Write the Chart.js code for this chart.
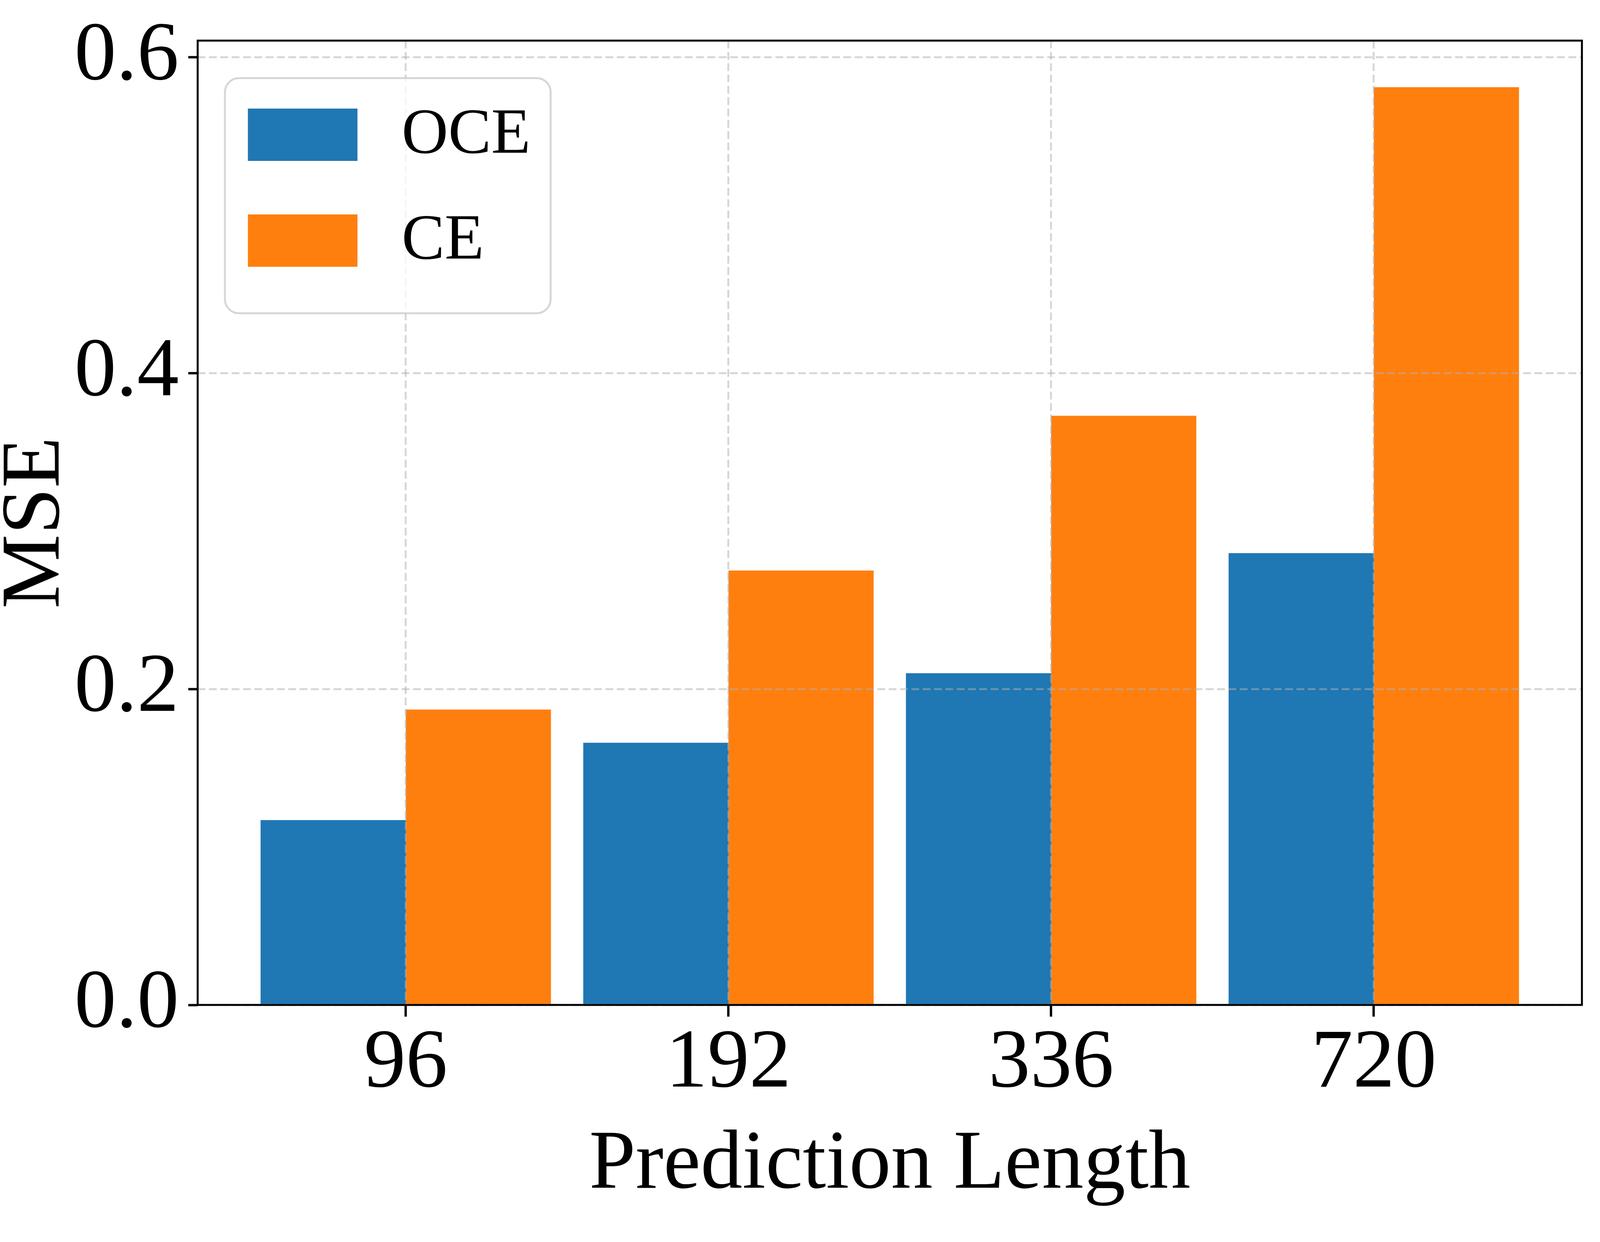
<!DOCTYPE html>
<html>
<head>
<meta charset="utf-8">
<title>MSE vs Prediction Length</title>
<script src="https://cdn.jsdelivr.net/npm/chart.js@4.4.0/dist/chart.umd.min.js"></script>
<style>
    html, body { margin: 0; padding: 0; background: #fff; overflow: hidden; }
    #wrap { width: 100vw; height: 100vh; position: relative; }
</style>
</head>
<body>
<div id="wrap"><canvas id="chart"></canvas></div>
<script>
// data
const categories = ['96', '192', '336', '720'];
const seriesNames = ['OCE', 'CE'];
const oceValues = [0.117, 0.166, 0.210, 0.286];
const ceValues = [0.187, 0.275, 0.373, 0.581];
const yTicks = [0.0, 0.2, 0.4, 0.6];

// the layout was measured on a 5577x3180 figure, scale it to the window
const sx = window.innerWidth / 5577;
const sy = window.innerHeight / 3180;
const k = Math.min(1, Math.sqrt(sx * sy)) * 0.99;
const fontSize = Math.round(252 * k);
const legendFontSize = Math.round(194 * k);

const serif = "'Liberation Serif', 'Times New Roman', serif";
const gridColor = 'rgba(176,176,176,0.5)';

function toPoints(values) {
    return values.map(function (v, i) { return { x: i, y: v }; });
}

// legend box drawn inside the plot, top left (like matplotlib)
function drawLegend(chart) {
    const ctx = chart.ctx;
    const a = chart.chartArea;
    ctx.save();
    ctx.font = legendFontSize + 'px ' + serif;
    let textW = 0;
    chart.data.datasets.forEach(function (ds) {
        textW = Math.max(textW, ctx.measureText(ds.label).width);
    });
    const x = a.left + 95 * sx, y = a.top + 96 * sy;
    const textX = 616 * sx;
    const w = textX + textW + 70 * sx, h = 602 * sy;
    ctx.beginPath();
    ctx.roundRect(x, y, w, h, 36);
    ctx.fillStyle = 'rgba(255,255,255,0.8)';
    ctx.fill();
    ctx.lineWidth = 5;
    ctx.strokeStyle = 'rgba(204,204,204,0.8)';
    ctx.stroke();
    chart.data.datasets.forEach(function (ds, i) {
        const by = y + (78 + i * 271) * sy;
        ctx.fillStyle = ds.backgroundColor;
        ctx.fillRect(x + 80 * sx, by, 382 * sx, 134 * sy);
        ctx.fillStyle = '#000';
        ctx.textBaseline = 'middle';
        ctx.textAlign = 'left';
        ctx.fillText(ds.label, x + textX, by + 70 * sy);
    });
    ctx.restore();
}

const framePlugin = {
    id: 'frame',
    afterDraw: function (chart) {
        const ctx = chart.ctx;
        const a = chart.chartArea;
        ctx.save();
        ctx.strokeStyle = '#000';
        ctx.lineWidth = 5;
        ctx.strokeRect(a.left, a.top, a.right - a.left, a.bottom - a.top);
        ctx.restore();
        drawLegend(chart);
    }
};

const chart = new Chart(document.getElementById('chart'), {
    type: 'bar',
    data: {
        datasets: [
            {
                label: seriesNames[0],
                data: toPoints(oceValues),
                backgroundColor: '#1f77b4',
                borderWidth: 0
            },
            {
                label: seriesNames[1],
                data: toPoints(ceValues),
                backgroundColor: '#ff7f0e',
                borderWidth: 0
            }
        ]
    },
    options: {
        responsive: true,
        maintainAspectRatio: false,
        animation: false,
        categoryPercentage: 0.9,
        barPercentage: 1.0,
        layout: { padding: { top: 104 * sy, right: 63 * sx, left: 0, bottom: 0 } },
        plugins: {
            legend: { display: false },
            tooltip: { enabled: false }
        },
        scales: {
            x: {
                type: 'linear',
                min: -0.645,
                max: 3.645,
                offset: false,
                afterBuildTicks: function (axis) {
                    axis.ticks = categories.map(function (c, i) { return { value: i }; });
                },
                afterFit: function (axis) {
                    axis.height = 607 * sy;
                    axis.paddingLeft = 0;
                    axis.paddingRight = 0;
                },
                ticks: {
                    autoSkip: false,
                    maxRotation: 0,
                    padding: 2726 * sy - 2573 * sy - 30 - fontSize / 2,
                    color: '#000',
                    font: { family: serif, size: fontSize, lineHeight: 1 },
                    callback: function (v) { return categories[v]; }
                },
                grid: {
                    offset: false,
                    color: gridColor,
                    lineWidth: 5,
                    tickColor: '#000',
                    tickWidth: 6,
                    tickLength: 30,
                    tickBorderDash: [],
                    z: 1
                },
                border: { display: false, dash: [20, 9] },
                title: {
                    display: true,
                    text: 'Prediction Length',
                    color: '#000',
                    font: { family: serif, size: fontSize, lineHeight: 1 },
                    padding: { top: 0, bottom: 3180 * sy - 2985 * sy - fontSize / 2 }
                }
            },
            y: {
                min: 0,
                max: 0.6105,
                afterBuildTicks: function (axis) {
                    axis.ticks = yTicks.map(function (v) { return { value: v }; });
                },
                afterFit: function (axis) {
                    axis.width = 689 * sx;
                    axis.paddingTop = 0;
                    axis.paddingBottom = 0;
                },
                ticks: {
                    padding: 24,
                    color: '#000',
                    font: { family: serif, size: fontSize, lineHeight: 1 },
                    callback: function (v) { return Number(v).toFixed(1); }
                },
                grid: {
                    color: gridColor,
                    lineWidth: 5,
                    tickColor: '#000',
                    tickWidth: 6,
                    tickLength: 24,
                    tickBorderDash: [],
                    z: 1
                },
                border: { display: false, dash: [20, 9] },
                title: {
                    display: true,
                    text: 'MSE',
                    color: '#000',
                    font: { family: serif, size: fontSize, lineHeight: 1 },
                    padding: { top: 94 - fontSize / 2, bottom: 0 }
                }
            }
        }
    },
    plugins: [framePlugin]
});
</script>
</body>
</html>
